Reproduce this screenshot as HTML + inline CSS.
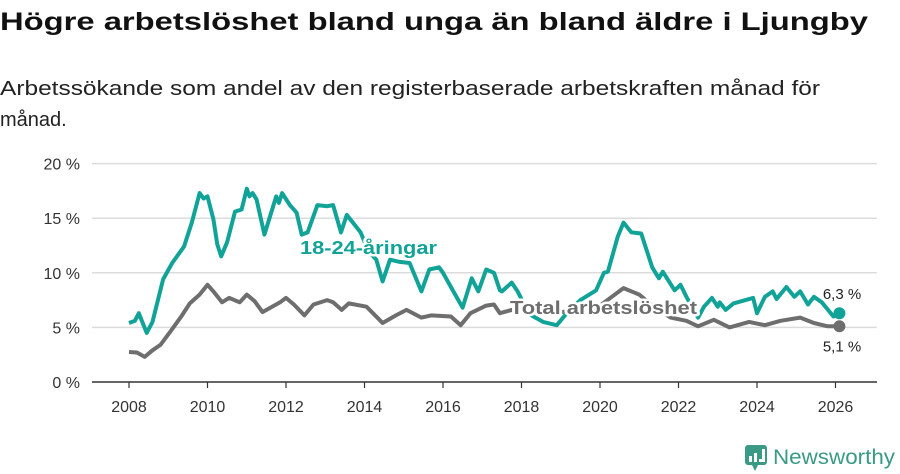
<!DOCTYPE html>
<html><head><meta charset="utf-8"><style>
html,body{margin:0;padding:0;background:#fff;}
svg{display:block;font-family:"Liberation Sans",sans-serif;}
</style></head><body>
<svg id="chart" width="900" height="474" viewBox="0 0 900 474">
<text x="0" y="30" font-size="25" font-weight="bold" fill="#111" textLength="868" lengthAdjust="spacingAndGlyphs">Högre arbetslöshet bland unga än bland äldre i Ljungby</text>
<text x="0" y="95" font-size="20" fill="#222" textLength="820" lengthAdjust="spacingAndGlyphs">Arbetssökande som andel av den registerbaserade arbetskraften månad för</text>
<text x="0" y="126" font-size="20" fill="#222">månad.</text>
<g id="grid"></g>
<g id="axes"></g>
<g id="series"></g>
<g id="labels"></g>
<g>
<rect x="745" y="445" width="22" height="20" rx="3" fill="#3a9a86"/>
<polygon points="752,465 758,465 755,471" fill="#3a9a86"/>
<rect x="749" y="456" width="3" height="6" fill="#fff"/><rect x="754" y="453" width="3" height="9" fill="#fff"/><rect x="759" y="459" width="3" height="3" fill="#fff"/><rect x="762" y="449" width="3" height="13" fill="#fff"/>
<text x="773" y="464" font-size="21" fill="#3a9a86" textLength="122" lengthAdjust="spacingAndGlyphs">Newsworthy</text>
</g>
</svg>
<script>
const yTicks=[0,5,10,15,20];
const xTicks=[2008,2010,2012,2014,2016,2018,2020,2022,2024,2026];
const youthYears=[2008.0,2008.15,2008.25,2008.45,2008.6,2008.87,2009.1,2009.4,2009.6,2009.8,2009.9,2010.0,2010.15,2010.25,2010.35,2010.5,2010.7,2010.87,2011.0,2011.07,2011.15,2011.25,2011.45,2011.75,2011.82,2011.9,2012.1,2012.27,2012.4,2012.55,2012.8,2013.05,2013.2,2013.4,2013.55,2013.9,2014.1,2014.3,2014.46,2014.65,2014.9,2015.15,2015.45,2015.65,2015.9,2016.0,2016.2,2016.5,2016.73,2016.9,2017.1,2017.3,2017.45,2017.5,2017.75,2017.9,2018.2,2018.55,2018.9,2019.2,2019.5,2019.9,2020.1,2020.2,2020.45,2020.6,2020.8,2021.05,2021.33,2021.5,2021.6,2021.9,2022.05,2022.2,2022.5,2022.65,2022.85,2023.0,2023.05,2023.2,2023.4,2023.9,2024.0,2024.2,2024.4,2024.5,2024.75,2024.95,2025.1,2025.3,2025.45,2025.65,2025.95,2026.1];
const youthValues=[5.4,5.6,6.3,4.5,5.5,9.4,10.9,12.4,14.6,17.3,16.8,17.0,14.9,12.6,11.5,12.8,15.6,15.8,17.7,17.0,17.3,16.7,13.5,17.0,16.4,17.3,16.2,15.5,13.5,13.7,16.2,16.1,16.2,13.7,15.3,13.7,12.0,11.2,9.2,11.2,11.0,10.9,8.3,10.3,10.5,10.0,8.7,6.8,9.5,8.3,10.3,10.0,8.4,8.3,9.1,8.3,6.2,5.5,5.2,6.5,7.5,8.4,10.0,10.1,13.3,14.6,13.7,13.6,10.5,9.5,10.1,8.4,8.9,7.8,5.9,6.9,7.7,6.9,7.3,6.6,7.2,7.7,6.3,7.8,8.3,7.6,8.7,7.8,8.3,7.1,7.8,7.3,6.0,6.3];
const totalYears=[2008.0,2008.2,2008.4,2008.6,2008.8,2009.05,2009.35,2009.55,2009.8,2010.0,2010.15,2010.37,2010.55,2010.82,2011.0,2011.2,2011.4,2011.85,2012.0,2012.2,2012.47,2012.7,2013.05,2013.2,2013.42,2013.6,2014.05,2014.46,2014.8,2015.07,2015.45,2015.7,2016.2,2016.45,2016.7,2017.1,2017.3,2017.45,2017.75,2018.2,2018.6,2019.0,2019.5,2020.0,2020.3,2020.6,2021.0,2021.4,2021.8,2022.2,2022.5,2022.9,2023.3,2023.8,2024.2,2024.6,2025.1,2025.45,2025.8,2026.1];
const totalValues=[2.75,2.7,2.3,2.9,3.4,4.6,6.1,7.2,8.0,8.9,8.3,7.3,7.7,7.3,8.0,7.4,6.4,7.3,7.7,7.1,6.1,7.1,7.5,7.3,6.6,7.2,6.9,5.4,6.1,6.6,5.9,6.1,6.0,5.2,6.3,7.0,7.1,6.3,6.6,6.5,6.2,6.4,6.6,7.0,7.8,8.6,8.0,6.8,5.9,5.6,5.1,5.7,5.0,5.5,5.2,5.6,5.9,5.4,5.1,5.1];
const NS='http://www.w3.org/2000/svg';
const X0=92,X1=877,Y0=382;
function xs(yr){return 129+(yr-2008)*39.25;}
function ys(v){return Y0-v*10.92;}
function mk(tag,attrs,parent){const e=document.createElementNS(NS,tag);for(const k in attrs)e.setAttribute(k,attrs[k]);parent.appendChild(e);return e;}
const grid=document.getElementById('grid'),axes=document.getElementById('axes'),series=document.getElementById('series'),labels=document.getElementById('labels');
yTicks.forEach(t=>{
 if(t>0){const l=mk('line',{x1:X0,x2:X1,y1:ys(t),y2:ys(t),stroke:'#dcdcdc','stroke-width':1.5},grid);
 
 }
 const tx=mk('text',{x:80,y:ys(t)+6,'text-anchor':'end','font-size':16,fill:'#333'},axes);tx.textContent=t+' %';
 
 
});
const ax=mk('line',{x1:X0,x2:X1,y1:Y0,y2:Y0,stroke:'#333','stroke-width':1.5},axes);


xTicks.forEach(t=>{
 const tk=mk('line',{x1:xs(t),x2:xs(t),y1:Y0,y2:Y0+6,stroke:'#333','stroke-width':1.2},axes);
 
 
 const tx=mk('text',{x:xs(t),y:Y0+30,'text-anchor':'middle','font-size':16,fill:'#333'},axes);tx.textContent=t;
 
 
});
function path(yrs,vals){return yrs.map((y,i)=>(i?'L':'M')+xs(y).toFixed(1)+','+ys(vals[i]).toFixed(1)).join('');}
const pt=mk('path',{d:path(totalYears,totalValues),fill:'none',stroke:'#6e6e6e','stroke-width':4,'stroke-linejoin':'round'},series);


const py=mk('path',{d:path(youthYears,youthValues),fill:'none',stroke:'#12a398','stroke-width':4,'stroke-linejoin':'round'},series);


const ly=youthYears.length-1,lt=totalYears.length-1;
const dy=mk('circle',{cx:xs(youthYears[ly]),cy:ys(youthValues[ly]),r:6,fill:'#12a398'},series);


const dt=mk('circle',{cx:xs(totalYears[lt]),cy:ys(totalValues[lt]),r:6,fill:'#6e6e6e'},series);


const vy=mk('text',{x:842,y:ys(youthValues[ly])-14,'text-anchor':'middle','font-size':15,fill:'#222'},labels);vy.textContent=youthValues[ly].toFixed(1).replace('.',',')+' %';


const vt=mk('text',{x:842,y:ys(totalValues[lt])+25,'text-anchor':'middle','font-size':15,fill:'#222'},labels);vt.textContent=totalValues[lt].toFixed(1).replace('.',',')+' %';


const sl=mk('text',{x:300,y:254,'font-size':18,'font-weight':'bold',fill:'#12a398',stroke:'#fff','stroke-width':5,'paint-order':'stroke','stroke-linejoin':'round',textLength:137,lengthAdjust:'spacingAndGlyphs'},labels);sl.textContent='18-24-åringar';


const tl=mk('text',{x:510,y:314,'font-size':18,'font-weight':'bold',fill:'#6e6e6e',stroke:'#fff','stroke-width':5,'paint-order':'stroke','stroke-linejoin':'round',textLength:187,lengthAdjust:'spacingAndGlyphs'},labels);tl.textContent='Total arbetslöshet';


</script>
</body></html>
